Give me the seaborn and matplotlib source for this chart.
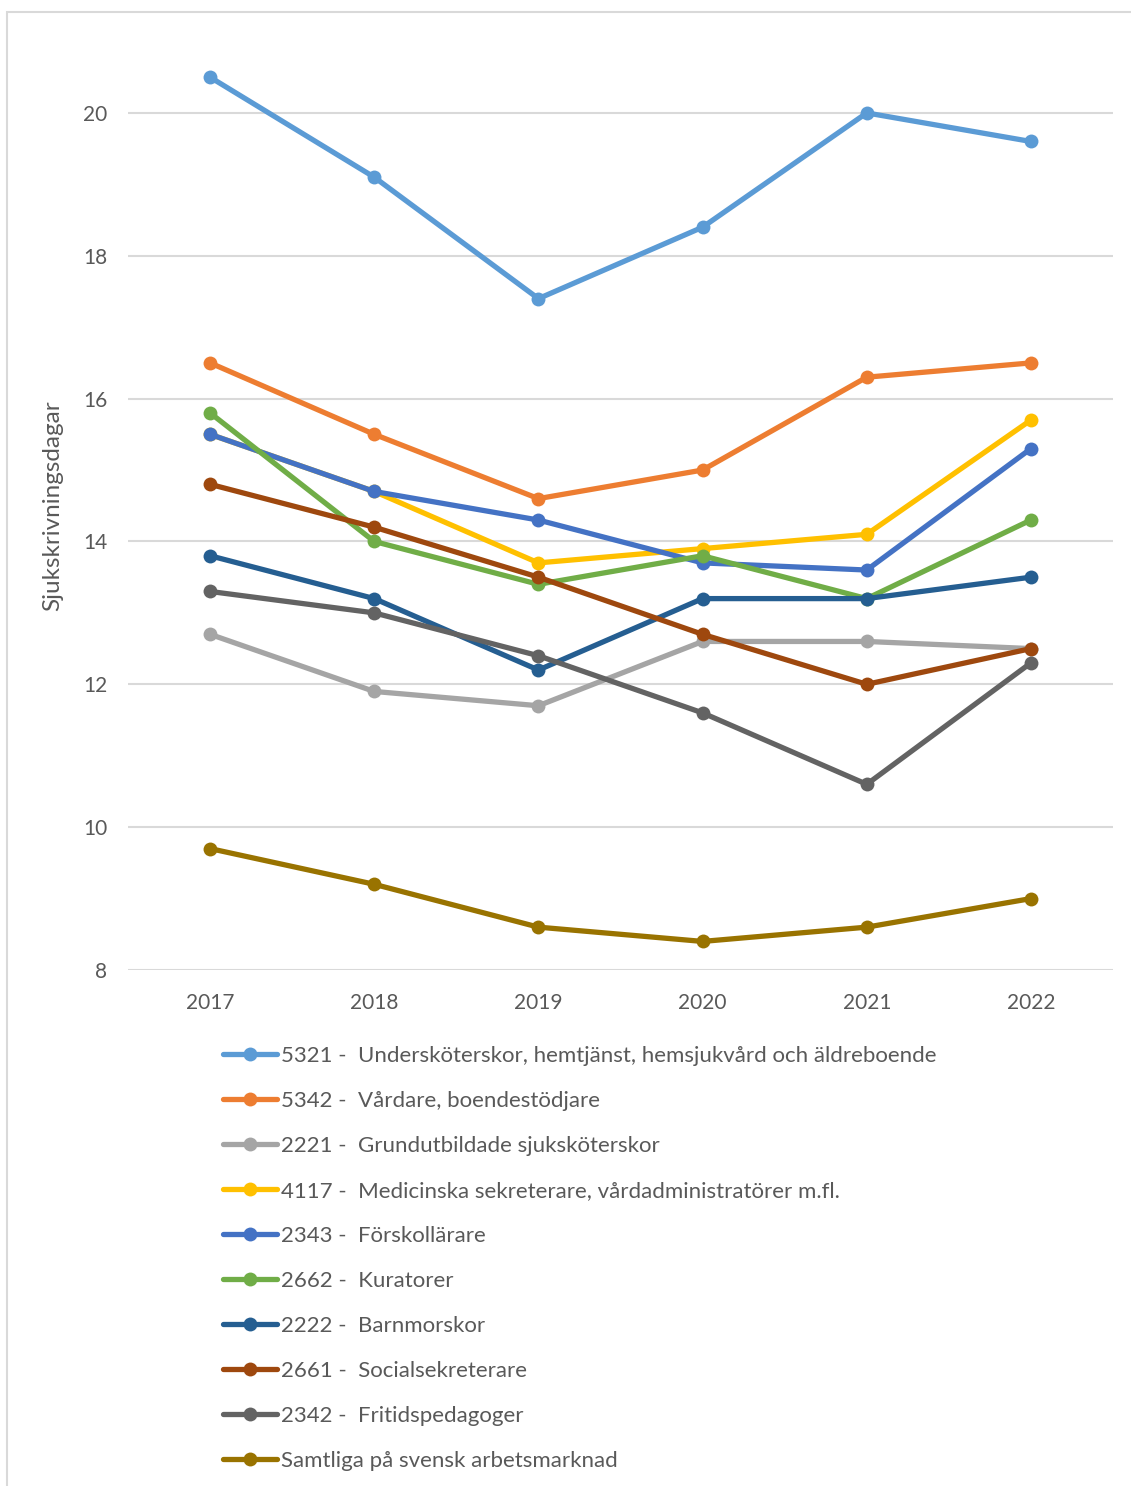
import matplotlib
matplotlib.use("Agg")
import matplotlib.pyplot as plt
from matplotlib.patches import Rectangle
import seaborn as sns
import pandas as pd

# data
years = [2017, 2018, 2019, 2020, 2021, 2022]

series_names = [
    "5321 -  Undersköterskor, hemtjänst, hemsjukvård och äldreboende",
    "5342 -  Vårdare, boendestödjare",
    "2221 -  Grundutbildade sjuksköterskor",
    "4117 -  Medicinska sekreterare, vårdadministratörer m.fl.",
    "2343 -  Förskollärare",
    "2662 -  Kuratorer",
    "2222 -  Barnmorskor",
    "2661 -  Socialsekreterare",
    "2342 -  Fritidspedagoger",
    "Samtliga på svensk arbetsmarknad",
]

v5321 = [20.5, 19.1, 17.4, 18.4, 20.0, 19.6]
v5342 = [16.5, 15.5, 14.6, 15.0, 16.3, 16.5]
v2221 = [12.7, 11.9, 11.7, 12.6, 12.6, 12.5]
v4117 = [15.5, 14.7, 13.7, 13.9, 14.1, 15.7]
v2343 = [15.5, 14.7, 14.3, 13.7, 13.6, 15.3]
v2662 = [15.8, 14.0, 13.4, 13.8, 13.2, 14.3]
v2222 = [13.8, 13.2, 12.2, 13.2, 13.2, 13.5]
v2661 = [14.8, 14.2, 13.5, 12.7, 12.0, 12.5]
v2342 = [13.3, 13.0, 12.4, 11.6, 10.6, 12.3]
samtliga = [9.7, 9.2, 8.6, 8.4, 8.6, 9.0]

colors = ["#5B9BD5", "#ED7D31", "#A5A5A5", "#FFC000", "#4472C4",
          "#70AD47", "#255E91", "#9E480E", "#636363", "#997300"]

all_values = [v5321, v5342, v2221, v4117, v2343, v2662, v2222, v2661, v2342, samtliga]

rows = []
for name, vals in zip(series_names, all_values):
    for yr, v in zip(years, vals):
        rows.append({"year": yr, "dagar": v, "serie": name})
df = pd.DataFrame(rows)

sns.set_style("white")
plt.rcParams["font.family"] = ["Lato", "DejaVu Sans"]
text_col = "#595959"

fig = plt.figure(figsize=(11.31, 14.86), dpi=100)
ax = fig.add_axes([128 / 1131, 1 - 970 / 1486, 985 / 1131, (970 - 41.5) / 1486])

sns.lineplot(data=df, x="year", y="dagar", hue="serie", hue_order=series_names,
             palette=colors, marker="o", markersize=10, markeredgewidth=0,
             linewidth=3.8, ax=ax, legend=True)

ax.set_xlim(2016.5, 2022.5)
ax.set_ylim(8, 21)
ax.set_yticks([8, 10, 12, 14, 16, 18, 20])
ax.set_xticks(years)
ax.grid(axis="y", color="#D9D9D9", linewidth=1.5)
ax.set_axisbelow(True)
for s in ax.spines.values():
    s.set_visible(False)
ax.tick_params(axis="both", length=0, labelsize=15, labelcolor=text_col)
ax.tick_params(axis="y", pad=15)
ax.tick_params(axis="x", pad=16.5)
ax.set_xlabel("")
ax.set_ylabel("Sjukskrivningsdagar", fontsize=17.5, color=text_col, labelpad=14)

handles, labels = ax.get_legend_handles_labels()
ax.get_legend().remove()
fig.legend(handles, labels, loc="upper left",
           bbox_to_anchor=(214 / 1131, 1 - 1037 / 1486),
           frameon=False, fontsize=16, labelcolor=text_col,
           handlelength=2.45, handletextpad=0.15, labelspacing=1.125,
           borderaxespad=0)

# chart frame (cropped on the right and bottom)
fig.patches.append(Rectangle((7 / 1131, -0.1), 1.2, 1 - 12 / 1486 + 0.1,
                             transform=fig.transFigure, fill=False,
                             edgecolor="#D9D9D9", linewidth=1.5))

fig.savefig("out.png", dpi=100)
